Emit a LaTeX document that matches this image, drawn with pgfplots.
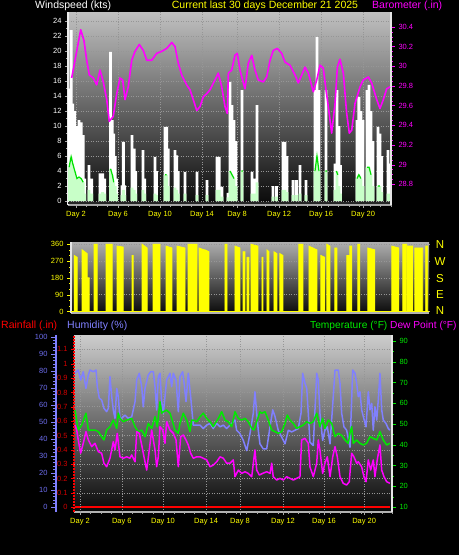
\documentclass[border=0pt]{standalone}
\usepackage{pgfplots}
\pgfplotsset{compat=1.18}
\usepackage{fontspec}
\setmainfont{Liberation Sans}
\definecolor{hum}{RGB}{128,128,255}
\definecolor{humlab}{RGB}{110,110,240}
\definecolor{tempg}{RGB}{0,235,0}
\definecolor{mag}{RGB}{255,0,255}
\definecolor{lgreen}{RGB}{200,255,200}
\definecolor{wgreen}{RGB}{0,225,0}
\definecolor{raindark}{RGB}{210,0,0}
\definecolor{yel}{RGB}{255,255,0}
\definecolor{gridc}{RGB}{150,150,150}
\begin{document}
\begin{tikzpicture}
\fill[black] (0,0) rectangle (459pt,-555pt);
\pgfplotsset{
  every axis/.append style={scale only axis, anchor=south west,
    /pgf/number format/assume math mode=true,
    font=\fontsize{7.5}{8}\selectfont,
    tick align=outside, major tick length=4pt, minor tick length=2pt},
  gridst/.style={major grid style={gridc, dash pattern=on 1pt off 1.5pt, line width=0.6pt}},
}
% ---------------- TOP PANEL: wind speed ----------------
\begin{axis}[at={(68pt,-205pt)}, width=323pt, height=193pt,
  xmin=0, xmax=30.76, ymin=-0.53, ymax=25.2,
  axis background/.style={top color={rgb,255:red,192;green,192;blue,192}, bottom color={rgb,255:red,8;green,8;blue,8}},
  axis x line*=bottom, axis y line*=left,
  x axis line style={gray!70, line width=1.5pt},
  y axis line style={white!85!gray, line width=1.5pt},
  xtick={0.76,4.76,8.76,12.76,16.1,20.1,24.1,28.1},
  xticklabels={Day 2,Day 6,Day 10,Day 14,Day 8,Day 12,Day 16,Day 20},
  minor xtick={0.76,1.76,...,30.76},
  ytick={0,2,...,24}, minor ytick={1,3,...,23},
  xmajorgrids, ymajorgrids, gridst,
  xticklabel style={yel}, yticklabel style={white},
  tick style={gray!70},
  major tick length=3pt]
\addplot[ybar, bar width=0.27, bar shift=0pt, fill=white, draw=none] coordinates {
(0.1,15)(0.3,22.8)(0.45,13)(0.65,12)(0.85,10)(1.05,10.8)(1.25,10.5)(1.45,8.8)(1.6,3)
(2.0,4.8)(2.25,3)
(3.05,3.7)(3.3,3.7)(3.5,3)
(4.05,19.9)(4.22,10.8)(4.36,9)(4.5,6)(4.62,3)
(5.14,2.1)(5.27,7.9)(5.4,2.1)
(6.1,8.8)(6.3,7)(6.45,4)
(7.14,6.8)(7.3,3)
(8.29,5.9)(8.42,4)
(9.24,9.9)(9.4,9.9)(9.55,7)
(10.19,6.8)(10.35,6.1)(10.5,4)
(11.14,3.9)
(12.29,3.9)
(13.24,2.8)
(14.19,5.9)(14.4,5.9)(14.67,1.9)
(15.24,1.1)(15.43,15.9)(15.62,12.8)(15.81,10.8)(16.0,8)
(16.57,14.8)
(17.52,3.9)(17.7,3)(18.0,12.8)
(19.52,2)(19.85,2)
(20.48,7.9)(20.65,7.9)(20.85,6)
(21.43,2.8)(21.75,2.8)
(22.1,4.8)
(22.67,2.8)
(23.52,14.8)(23.71,21.9)(23.9,14.8)
(24.57,14.8)
(25.43,5)(25.62,14.8)(25.8,10)(25.95,4.8)
(27.52,10.8)(27.7,13.9)(27.9,12)(28.1,10.8)
(28.48,14.8)(28.67,15.5)(28.86,12)(29.05,8)
(29.52,9.9)(29.7,9)(29.88,6)
(30.48,6.8)(30.65,5)};
\addplot[ybar, bar width=0.27, bar shift=0pt, fill=lgreen, draw=none] coordinates {
(0.1,4.5)(0.3,5.9)(0.45,5)(0.65,4)(0.85,3)(1.05,3.2)(1.25,3)(1.45,2.5)(1.6,1)
(2.0,1.5)(2.25,1)
(3.05,1)(3.3,1.2)(3.5,1)
(4.05,4.3)(4.22,3.5)(4.36,2.5)(4.5,2)(4.62,1)
(5.14,0.8)(5.27,1.5)(5.4,0.8)
(6.1,1.8)(6.3,1.5)(6.45,1)
(7.14,1.5)(7.3,1)
(8.29,1)(8.42,0.8)
(9.24,3.5)(9.4,3.5)(9.55,2)
(10.19,1.8)(10.35,1.5)(10.5,1)
(11.14,1)
(12.29,0.8)
(13.24,0.8)
(14.19,1.5)(14.4,1.5)(14.67,0.6)
(15.24,0.5)(15.43,4)(15.62,3.5)(15.81,3)(16.0,2)
(16.57,4)
(17.52,1)(17.7,1)(18.0,2.5)
(19.52,0.6)(19.85,0.6)
(20.48,1.5)(20.65,1.5)(20.85,1.2)
(21.43,0.8)(21.75,0.8)
(22.1,1)
(22.67,0.8)
(23.52,4)(23.71,6)(23.9,4)
(24.57,4)
(25.43,1.5)(25.62,4)(25.8,2)(25.95,1)
(27.52,3)(27.7,3.5)(27.9,3)(28.1,2)
(28.48,4.5)(28.67,4.5)(28.86,3.5)(29.05,2)
(29.52,2)(29.7,2)(29.88,1.2)
(30.48,1)(30.65,1)};
\addplot[wgreen, line width=1.2pt, unbounded coords=jump] coordinates {
(0.1,4.5)(0.3,5.9)(0.45,5)(0.65,4)(0.85,3)(1.05,3.2)(1.25,3)(1.45,2.5)(1.6,nan)
(4.05,4.3)(4.22,3.5)(4.36,2.5)(4.5,nan)
(9.24,3.5)(9.4,3.5)(9.55,nan)
(15.43,4)(15.62,3.5)(15.81,3)(16.0,nan)
(16.5,4)(16.65,4)(16.8,nan)
(23.52,4)(23.71,6)(23.9,4)(24.1,nan)
(24.5,4)(24.65,4)(24.8,nan)
(25.55,4)(25.7,3.5)(25.8,nan)
(27.52,3)(27.7,3.5)(27.9,3)(28.1,nan)
(28.48,4.5)(28.67,4.5)(28.86,3.5)(29.05,nan)
(29.52,2)(29.7,2)(29.88,nan)};
\addplot[black!85, line width=1.2pt] coordinates {(0,-0.25)(30.76,-0.25)};
\end{axis}
\begin{axis}[at={(68pt,-205pt)}, width=323pt, height=193pt,
  xmin=0, xmax=30.76, ymin=28.59, ymax=30.55,
  axis x line=none, axis y line*=right,
  y axis line style={white!80!gray, line width=1.2pt},
  ytick={28.8,29,29.2,29.4,29.6,29.8,30,30.2,30.4}, minor y tick num=3,
  yticklabel style={mag}, tick style={mag}, major tick length=4pt]
\addplot[mag, line width=1.6pt, line join=round] coordinates {
(0.35,29.88)(0.67,30.06)(1.21,30.37)(1.52,30.26)(1.78,30.06)(2.03,29.91)(2.41,29.88)(2.73,29.81)(3.05,29.96)(3.36,29.84)(3.69,29.66)(3.93,29.44)(4.31,29.49)(4.64,29.72)(4.95,29.88)(5.21,29.86)(5.43,29.66)(5.74,29.79)(6.07,30.06)(6.38,30.15)(6.79,30.22)(7.17,30.16)(7.50,30.06)(7.97,30.06)(8.45,30.13)(8.92,30.15)(9.40,30.18)(9.88,30.24)(10.19,30.20)(10.50,30.03)(10.83,29.91)(11.30,29.81)(11.62,29.76)(11.93,29.66)(12.26,29.55)(12.57,29.59)(12.89,29.69)(13.21,29.72)(13.52,29.76)(14.00,29.86)(14.31,29.93)(14.64,29.79)(14.95,29.59)(15.17,29.52)(15.27,29.93)(15.59,29.96)(15.90,30.11)(16.12,30.13)(16.38,29.96)(16.70,29.83)(16.86,29.77)(17.17,30.03)(17.50,30.11)(17.81,29.96)(18.12,29.86)(18.60,29.84)(18.92,29.89)(19.24,30.06)(19.55,30.16)(19.93,30.18)(20.35,30.13)(20.67,30.04)(21.14,30.01)(21.62,29.91)(21.93,29.83)(22.26,29.91)(22.57,29.99)(22.89,29.93)(23.36,29.74)(23.69,29.86)(24.00,30.01)(24.31,29.98)(24.57,29.76)(24.79,29.59)(25.11,29.32)(25.43,29.62)(25.65,29.99)(25.90,30.07)(26.22,29.93)(26.54,29.52)(26.79,29.32)(27.02,29.35)(27.33,29.62)(27.81,29.79)(28.12,29.86)(28.60,29.89)(28.92,29.83)(29.40,29.66)(29.71,29.57)(30.03,29.66)(30.35,29.77)(30.67,29.79)};
\end{axis}
% ---------------- MIDDLE PANEL: wind direction ----------------
\begin{axis}[at={(71pt,-313pt)}, width=358pt, height=71pt,
  xmin=-0.1, xmax=30.1, ymin=-8, ymax=372,
  axis background/.style={top color={rgb,255:red,175;green,175;blue,175}, bottom color={rgb,255:red,10;green,10;blue,10}},
  axis x line*=bottom, axis y line*=left,
  x axis line style={gray!60, line width=1.2pt},
  y axis line style={white!80!gray, line width=1.2pt},
  xtick=\empty, minor xtick={0.5,1.5,...,29.5},
  ytick={0,90,180,270,360}, minor y tick num=2, ymajorgrids, gridst,
  yticklabel style={yel}, tick style={yel}, major tick length=4pt]
\addplot[fill=yel, draw=yel, line width=0.8pt] coordinates {
(-0.1,0)(0.17,0)(0.17,300)(0.42,290)(0.42,0)
(0.84,0)(0.84,330)(1.05,320)(1.26,310)(1.26,180)(1.43,180)(1.43,0)
(1.85,0)(1.85,360)(2.11,360)(2.11,0)
(2.86,0)(2.86,360)(3.37,360)(3.37,0)
(3.79,0)(3.79,350)(4.30,345)(4.30,0)
(5.05,0)(5.05,300)(5.14,300)(5.14,0)
(5.90,0)(5.90,360)(6.32,340)(6.32,0)
(6.82,0)(6.82,360)(7.41,360)(7.41,0)
(7.92,0)(7.92,350)(8.42,340)(8.42,0)
(8.85,0)(8.85,350)(9.52,340)(9.52,0)
(9.77,0)(9.77,360)(10.53,360)(10.53,0)
(10.70,0)(10.70,340)(11.12,330)(11.12,0)
(11.20,0)(11.20,330)(11.54,320)(11.54,0)
(12.89,0)(12.89,360)(13.06,360)(13.06,0)
(13.73,0)(13.73,350)(14.15,340)(14.15,0)
(14.41,0)(14.41,320)(14.57,320)(14.57,0)
(14.74,0)(14.74,290)(14.91,290)(14.91,0)
(15.08,0)(15.08,360)(15.67,350)(15.67,0)
(16.01,0)(16.01,290)(16.09,290)(16.09,0)
(16.43,0)(16.43,330)(16.60,320)(16.60,0)
(17.02,0)(17.02,320)(17.27,310)(17.27,0)
(17.52,0)(17.52,310)(17.78,300)(17.78,0)
(19.12,0)(19.12,360)(19.46,360)(19.46,0)
(19.97,0)(19.97,350)(20.64,330)(20.64,0)
(20.98,0)(20.98,300)(21.31,290)(21.31,0)
(21.48,0)(21.48,360)(21.74,350)(21.74,0)
(22.16,0)(22.16,340)(22.33,340)(22.33,0)
(23.17,0)(23.17,300)(23.42,300)(23.42,350)(23.59,350)(23.59,0)
(24.09,0)(24.09,360)(24.26,360)(24.26,0)
(24.94,0)(24.94,340)(25.53,330)(25.53,0)
(26.96,0)(26.96,350)(27.55,340)(27.55,0)
(27.89,0)(27.89,360)(28.22,360)(28.22,0)
(28.31,0)(28.31,350)(28.73,350)(28.73,0)
(28.90,0)(28.90,340)(29.57,340)(29.57,0)
(29.82,0)(29.82,350)(29.99,350)(29.99,0)(30.1,0)} \closedcycle;
\end{axis}
% ---------------- BOTTOM PANEL ----------------
\begin{axis}[at={(74pt,-512pt)}, width=318pt, height=177pt,
  xmin=0, xmax=30.58, ymin=-0.0327, ymax=1.2,
  axis background/.style={top color={rgb,255:red,205;green,205;blue,205}, bottom color={rgb,255:red,8;green,8;blue,8}},
  axis x line*=bottom, axis y line*=left,
  x axis line style={gray!60, line width=1.5pt},
  y axis line style={red, dash pattern=on 2pt off 1pt, line width=1.2pt},
  xtick=\empty,
  ytick={0,0.1,0.2,0.3,0.4,0.5,0.6,0.7,0.8,0.9,1,1.1},
  ymajorgrids, gridst,
  yticklabel style={raindark}, tick style={red}, major tick length=3pt]
\addplot[red, line width=2pt] coordinates {
(0.1,0)(1,0)(2,0)(3,0)(4,0)(5,0)(6,0)(7,0)(8,0)(9,0)(10,0)(11,0)(12,0)(13,0)(14,0)(15,0)(16,0)(17,0)(18,0)(19,0)(20,0)(21,0)(22,0)(23,0)(24,0)(25,0)(26,0)(27,0)(28,0)(29,0)(30,0)(30.4,0)};
\end{axis}
\begin{axis}[at={(74pt,-512pt)}, width=318pt, height=177pt,
  xmin=0, xmax=30.58, ymin=-3.1, ymax=101,
  axis x line*=bottom, axis y line*=left,
  x axis line style={draw=none}, y axis line style={draw=none},
  ytick=\empty,
  xtick={0.58,4.6,8.56,12.7,15.96,20.1,24.04,27.9},
  xticklabels={Day 2,Day 6,Day 10,Day 14,Day 8,Day 12,Day 16,Day 20},
  minor xtick={0.58,1.58,...,30.58},
  xmajorgrids, gridst,
  xticklabel style={yel}, tick style={gray!70}, major tick length=3pt]
\addplot[hum, line width=1.5pt, line join=round] coordinates {
(0.10,78.5)(0.41,80.4)(0.64,74.5)(0.89,79.4)(1.15,69.6)(1.38,77.5)(1.54,80.4)(1.86,79.4)(2.12,80.4)(2.24,70.6)(2.43,63.8)(2.66,62.8)(2.88,57.9)(3.14,55.9)(3.30,57.9)(3.46,76.5)(3.63,64.7)(3.78,56.9)(3.94,52)(4.11,69.6)(4.26,64.7)(4.42,52)(4.59,52)(4.90,53.9)(5.22,52)(5.55,52.9)(5.87,61.8)(6.03,74.5)(6.28,78.5)(6.51,70.6)(6.66,58.8)(6.83,69.6)(7.14,77.5)(7.38,79.4)(7.63,79.4)(7.79,70.6)(7.95,56.9)(8.11,76.5)(8.27,78.5)(8.43,61.8)(8.59,54.9)(8.91,74.5)(9.23,78.5)(9.39,70.6)(9.55,78.5)(9.81,74.5)(10.03,55.9)(10.19,76.5)(10.45,79.4)(10.61,71.6)(10.77,61.8)(10.99,78.5)(11.22,64.7)(11.47,48)(11.80,48)(12.12,48)(12.43,46)(12.76,48)(13.08,49)(13.39,46)(13.72,49)(14.04,47)(14.36,48)(14.68,46)(15.16,49)(15.48,51)(15.64,45)(15.96,43)(16.28,39)(16.61,33)(16.92,43)(17.24,55)(17.40,67.6)(17.57,55)(17.72,45)(17.88,37)(18.20,34)(18.53,34)(18.85,47)(19.11,57)(19.33,53)(19.64,45)(19.97,41)(20.29,37)(20.61,45)(20.93,44)(21.25,45)(21.57,46)(21.83,55)(21.99,78.5)(22.21,72.6)(22.38,69.6)(22.53,55)(22.69,38)(23.01,36)(23.34,78.5)(23.49,74.5)(23.65,55)(23.91,39)(24.13,45)(24.36,47)(24.62,37)(24.93,64.7)(25.10,80.4)(25.41,80.4)(25.58,72.6)(25.74,55)(25.96,47)(26.22,45)(26.54,35)(26.80,80.4)(27.02,78.5)(27.18,72.6)(27.34,64.7)(27.50,67.6)(27.66,57)(27.82,53)(28.08,47)(28.30,67.6)(28.46,57)(28.63,60.8)(28.78,45)(28.94,58.8)(29.11,51)(29.26,62.8)(29.42,78.5)(29.59,57)(29.74,51)(30.00,49)(30.22,46)(30.38,45)};
\end{axis}
\begin{axis}[at={(74pt,-512pt)}, width=318pt, height=177pt,
  xmin=0, xmax=30.58, ymin=7.59, ymax=92.89,
  axis x line=none, axis y line*=right,
  y axis line style={white!80!gray, line width=1.2pt},
  ytick={10,20,...,90}, minor y tick num=1,
  yticklabel style={tempg}, tick style={tempg}, major tick length=4pt]
\addplot[tempg, line width=1.5pt, line join=round] coordinates {
(0.10,56.7)(0.26,51.9)(0.41,47.1)(0.74,49.5)(1.15,55.2)(1.38,47.1)(1.70,47.1)(2.02,47.1)(2.34,46.3)(2.66,43.9)(2.88,42.3)(3.14,47.1)(3.46,48.7)(3.78,51.9)(4.11,47.9)(4.26,55.2)(4.42,52.7)(4.74,51.1)(5.07,51.9)(5.55,52.7)(5.87,48.7)(6.18,46.3)(6.51,47.1)(6.83,43.9)(6.99,47.1)(7.14,50.3)(7.47,47.9)(7.79,53.5)(8.01,48.7)(8.27,60.7)(8.43,55.2)(8.59,55.9)(8.91,56.7)(9.23,55.2)(9.39,52.7)(9.71,47.1)(10.03,45.5)(10.19,50.3)(10.51,55.2)(10.84,51.9)(11.15,46.3)(11.32,51.9)(11.47,51.9)(11.80,51.1)(12.12,53.5)(12.43,55.2)(12.76,52.7)(13.08,51.1)(13.39,48.7)(13.88,52.7)(14.20,55.9)(14.52,51.9)(14.84,51.1)(15.16,48.7)(15.48,55.9)(15.80,52.7)(16.13,51.9)(16.44,52.7)(16.76,51.1)(17.09,47.9)(17.31,47.1)(17.57,51.1)(17.88,55.9)(18.05,55.2)(18.37,55.9)(18.68,51.9)(19.01,47.1)(19.33,46.3)(19.64,45.5)(19.97,46.3)(20.29,50.3)(20.51,54.3)(20.77,51.9)(21.09,50.3)(21.41,47.9)(21.73,48.7)(22.05,49.5)(22.38,51.1)(22.69,50.3)(23.01,51.1)(23.34,55.2)(23.65,48.7)(23.91,52.7)(24.13,47.9)(24.45,51.9)(24.78,50.3)(25.10,43.9)(25.41,45.5)(25.74,44.5)(26.06,42.3)(26.37,40.7)(26.54,45.5)(26.70,48.7)(26.86,40.7)(27.18,42.3)(27.50,40.7)(27.82,39.9)(28.14,40.7)(28.46,43.9)(28.78,43.1)(29.11,42.3)(29.42,46.3)(29.74,42.3)(30.07,39.9)(30.38,40.7)};
\addplot[mag, line width=1.5pt, line join=round] coordinates {
(0.10,49.5)(0.26,47.1)(0.41,42.3)(0.64,35.9)(0.89,40.7)(1.15,46.3)(1.38,42.3)(1.70,39.1)(2.02,40.7)(2.34,36.7)(2.66,35.9)(2.88,31.1)(3.14,29.4)(3.46,33.5)(3.78,41.5)(3.94,37.5)(4.16,45.5)(4.42,34.2)(4.74,33.5)(5.07,34.2)(5.38,33.5)(5.55,35.1)(5.87,31.8)(6.03,46.3)(6.28,45.5)(6.51,39.9)(6.73,34.2)(6.99,27.8)(7.24,37.5)(7.47,47.1)(7.79,37.5)(7.95,29.4)(8.11,34.2)(8.27,48.7)(8.53,47.1)(8.75,40.7)(8.91,51.1)(9.23,47.1)(9.55,45.5)(9.81,42.3)(10.03,29.4)(10.26,43.9)(10.51,44.7)(10.77,42.3)(10.99,39.9)(11.22,35.9)(11.47,33.5)(11.80,34.2)(12.12,34.2)(12.43,33.5)(12.76,32.7)(13.08,29.4)(13.39,30.2)(13.72,31.8)(14.04,34.2)(14.36,33.5)(14.68,31.1)(15.00,31.1)(15.32,32.7)(15.48,24.6)(15.80,27.8)(16.13,26.2)(16.44,27)(16.76,26.2)(17.09,24.6)(17.40,37.5)(17.57,27.8)(17.82,25.4)(18.14,26.2)(18.53,27)(18.85,26.2)(19.01,31.1)(19.16,24.6)(19.49,23)(19.81,23.8)(20.13,23)(20.45,24.6)(20.77,23.8)(21.09,23)(21.41,23.8)(21.73,24.6)(21.89,42.3)(22.21,43.1)(22.53,40.7)(22.69,29.4)(23.01,24.6)(23.34,31.1)(23.49,42.3)(23.65,37.5)(23.91,26.2)(24.13,31.1)(24.36,34.2)(24.62,24.6)(24.88,34.2)(25.10,39.1)(25.32,34.2)(25.58,24.6)(25.89,21.4)(26.22,20.6)(26.47,22.2)(26.70,35.9)(26.92,34.2)(27.18,31.1)(27.34,31.8)(27.66,29.4)(27.88,24.6)(28.08,22.2)(28.30,32.7)(28.53,27.8)(28.78,32.7)(28.94,24.6)(29.16,32.7)(29.42,39.9)(29.59,27.8)(29.81,24.6)(30.07,22.2)(30.38,21.4)};
\end{axis}
\begin{axis}[at={(56pt,-512pt)}, width=18pt, height=177pt,
  xmin=0, xmax=1, ymin=-3.1, ymax=101,
  axis x line=none, axis y line*=left,
  y axis line style={hum, line width=1.8pt},
  ytick={0,10,...,100}, minor y tick num=4,
  yticklabel style={humlab}, tick style={hum}, major tick length=5pt, minor tick length=3pt]
\addplot[draw=none] coordinates {(0,0)(1,100)};
\end{axis}
% ---------------- headers and compass letters ----------------
\begin{scope}[every node/.style={inner sep=0pt, font=\fontsize{10.5}{12}\selectfont}]
\node[anchor=west, white] at (35pt,-6pt) {Windspeed (kts)};
\node[yel] at (265pt,-6pt) {Current last 30 days December 21 2025};
\node[anchor=west, mag] at (372pt,-6pt) {Barometer (.in)};
\node[anchor=west, red] at (1pt,-326pt) {Rainfall (.in)};
\node[anchor=west, hum] at (67pt,-326pt) {Humidity (\%)};
\end{scope}
\begin{scope}[every node/.style={inner sep=0pt, font=\fontsize{10.2}{12}\selectfont}]
\node[anchor=west, tempg] at (310pt,-326pt) {Temperature (°F)};
\node[anchor=west, mag] at (390pt,-326pt) {Dew Point (°F)};
\end{scope}
\begin{scope}[every node/.style={inner sep=0pt, yel, font=\fontsize{11.5}{12}\selectfont}]
\node at (440pt,-244.5pt) {N};
\node at (440pt,-262pt) {W};
\node at (440pt,-279pt) {S};
\node at (440pt,-295pt) {E};
\node at (440pt,-311pt) {N};
\end{scope}
\pgfresetboundingbox
\useasboundingbox (0,0) rectangle (459pt,-555pt);
\end{tikzpicture}
\end{document}
